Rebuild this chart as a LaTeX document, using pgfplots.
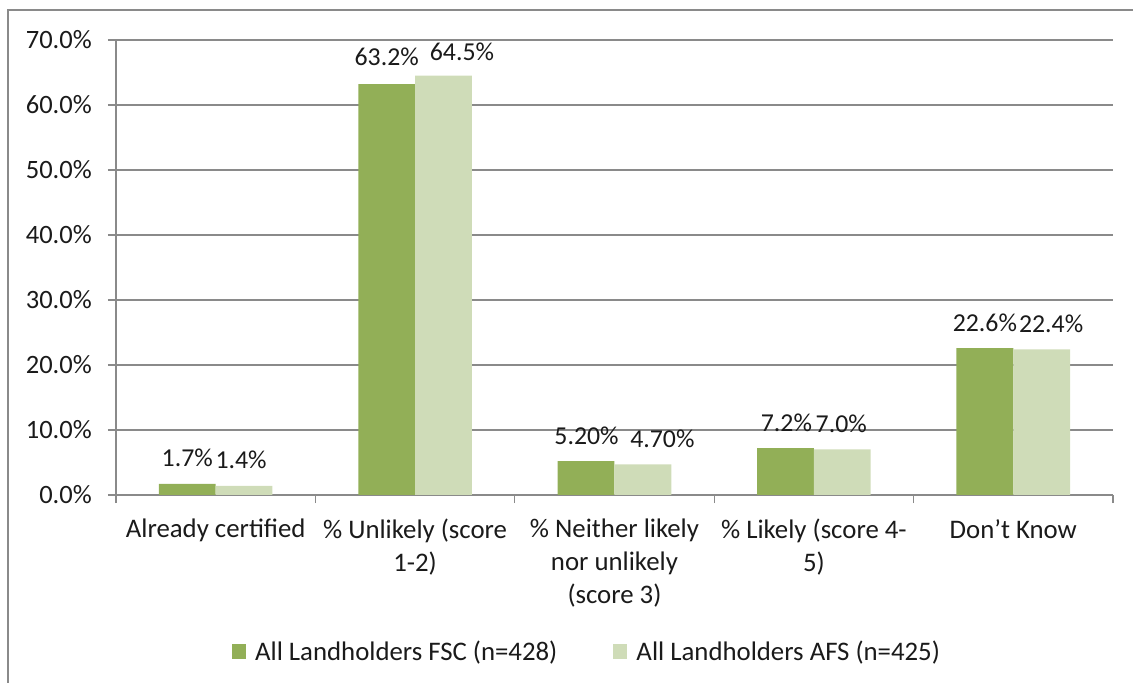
\documentclass[border=0pt]{standalone}
\usepackage{pgfplots}
\pgfplotsset{compat=1.18}
\usepackage{pgfplotstable}
\usepackage{fontspec}
\setmainfont{Carlito}
\definecolor{fsc}{HTML}{92AF57}
\definecolor{afs}{HTML}{CFDCB8}
\definecolor{gridgray}{HTML}{8A8A8A}
\definecolor{txt}{HTML}{1A1A1A}

\pgfplotstableread{
x y lab dx dy
0 1.7 1.7 0 17
1 63.2 63.2 0 19
2 5.2 5.20 0.5 17
3 7.2 7.2 1 17
4 22.6 22.6 0 17
}\fscdata
\pgfplotstableread{
x y lab dx dy
0 1.4 1.4 -3 17
1 64.5 64.5 18.5 15
2 4.7 4.70 19.5 17
3 7.0 7.0 -1 17
4 22.4 22.4 9.5 17
}\afsdata

\begin{document}
\begin{tikzpicture}
\path[use as bounding box] (0bp,0bp) rectangle (1133bp,683bp);
\draw[gridgray, line width=1.3bp] (8bp,-10bp) -- (8bp,673bp) -- (1145bp,673bp);
\begin{axis}[
  at={(116bp,188bp)}, anchor=south west,
  width=997bp, height=455bp, scale only axis,
  xmin=-0.5, xmax=4.5, ymin=0, ymax=70,
  ybar=0pt, bar width=56.8bp,
  axis x line*=bottom, axis y line*=left,
  axis line style={gridgray, line width=1.3bp, -},
  ytick={0,10,...,70},
  ymajorgrids, grid style={gridgray, line width=1.3bp},
  yticklabel={\pgfmathprintnumber[fixed,fixed zerofill,precision=1]{\tick}\%},
  /pgf/number format/assume math mode=true,
  tick style={gridgray, line width=1.3bp},
  major tick length=8bp, tick align=outside,
  xtick={-0.5,0.5,1.5,2.5,3.5,4.5},
  xticklabels={Already certified, {\% Unlikely (score\\1-2)}, {\% Neither likely\\nor unlikely\\(score 3)}, {\% Likely (score 4-\\5)}, {Don’t Know}, {}},
  xticklabel style={xshift=99.7bp, align=center, anchor=north, inner sep=0pt, yshift=-16bp, text=txt, font=\fontsize{26.8bp}{33bp}\selectfont},
  yticklabel style={anchor=east, inner sep=0pt, xshift=-16bp, text=txt, font=\fontsize{26.5bp}{31bp}\selectfont},
  point meta=explicit symbolic,
  visualization depends on={\thisrow{dx} \as \dx},
  visualization depends on={\thisrow{dy} \as \dy},
  nodes near coords={\pgfplotspointmeta\%},
  nodes near coords style={font=\fontsize{25.8bp}{30bp}\selectfont, text=txt, anchor=base, inner sep=0pt, xshift=\dx bp, yshift=\dy bp},
  legend columns=2,
  legend image code/.code={\fill[#1,draw=none] (0bp,-7.5bp) rectangle (14bp,7.5bp);},
  legend style={at={(axis description cs:0.1163,-0.344)}, anchor=west, draw=none, fill=none, inner sep=0pt,
    font=\fontsize{26.8bp}{31bp}\selectfont, text=txt,
    cells={inner sep=0pt, anchor=west},
    /tikz/every odd column/.append style={column sep=7bp},
    /tikz/every even column/.append style={column sep=54bp}},
]
\addplot[fill=fsc, draw=none] table[x=x, y=y, meta=lab] {\fscdata};
\addlegendentry{All Landholders FSC (n=428)}
\addplot[fill=afs, draw=none] table[x=x, y=y, meta=lab] {\afsdata};
\addlegendentry{All Landholders AFS (n=425)}
\end{axis}
\end{tikzpicture}
\end{document}
